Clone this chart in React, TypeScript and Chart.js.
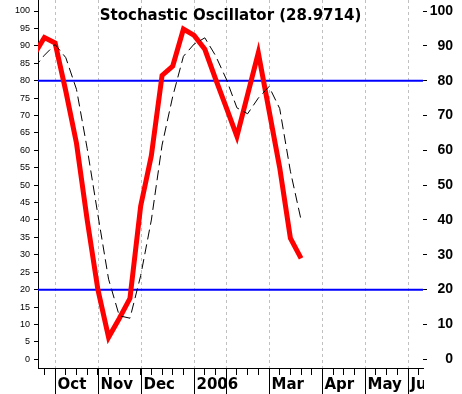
import React, { useEffect, useRef } from 'react';
import { Chart, registerables } from 'chart.js';

Chart.register(...registerables);

const TITLE = 'Stochastic Oscillator (28.9714)';

// weekly sample index (0 = first week tick on the axis)
const weekIndex = [-1, 0, 1, 2, 3, 4, 5, 6, 7, 8, 9, 10, 11, 12, 13, 14, 15, 16, 17, 18, 19, 20, 21, 22, 23, 24];
const percentK = [87.3, 92.4, 90.8, 77, 62, 40, 20, 6.3, 11.7, 17.5, 44, 58.5, 81.5, 84.2, 94.8, 93, 89, 80.5, 72.3, 64, 76, 88, 71.5, 55, 34.8, 28.97];
const percentD = [83.5, 87.3, 90.4, 86.6, 77.5, 60.5, 41.5, 23, 12.5, 11.8, 24, 40, 61.5, 75.5, 87, 90.5, 92.3, 87.2, 80.5, 72.2, 70.5, 75, 78.3, 72, 54, 40];

const levels = [80, 20];

const weekTicks = [0, 1, 2, 3, 4, 5, 6, 7, 8, 9, 10, 11, 12, 13, 14, 15, 16, 17, 18, 19, 20, 21, 22, 23, 24, 25, 26, 27, 28, 29, 30, 31, 32, 33, 34, 35];
const monthStartWeek = [1, 5, 9, 14, 17, 21, 26, 30, 34];
const monthLabels = ['Oct', 'Nov', 'Dec', '2006', '', 'Mar', 'Apr', 'May', 'Jun'];

const leftTickValues = [0, 5, 10, 15, 20, 25, 30, 35, 40, 45, 50, 55, 60, 65, 70, 75, 80, 85, 90, 95, 100];
const rightTickValues = [0, 5, 10, 15, 20, 25, 30, 35, 40, 45, 50, 55, 60, 65, 70, 75, 80, 85, 90, 95, 100];
const rightLabelValues = [0, 10, 20, 30, 40, 50, 60, 70, 80, 90, 100];

const X_MIN = -0.6;
const X_MAX = 35.4;
const Y_MIN = -2.5;
const Y_MAX = 103.16;

const decorPlugin = {
  id: 'decor',
  beforeDatasetsDraw(chart: any) {
    const { ctx, chartArea, scales } = chart;
    ctx.save();
    ctx.strokeStyle = '#c0c0c0';
    ctx.lineWidth = 1;
    ctx.setLineDash([3, 3]);
    monthStartWeek.forEach((w) => {
      const x = Math.round(scales.x.getPixelForValue(w)) + 0.5;
      ctx.beginPath();
      ctx.moveTo(x, chartArea.top);
      ctx.lineTo(x, chartArea.bottom);
      ctx.stroke();
    });
    ctx.restore();
  },
  afterDraw(chart: any) {
    const { ctx, chartArea, scales } = chart;
    ctx.save();
    ctx.strokeStyle = '#000';
    ctx.lineWidth = 1;
    ctx.setLineDash([]);
    monthStartWeek.forEach((w) => {
      const x = Math.round(scales.x.getPixelForValue(w)) + 0.5;
      ctx.beginPath();
      ctx.moveTo(x, chartArea.bottom);
      ctx.lineTo(x, chart.height);
      ctx.stroke();
    });
    ctx.beginPath();
    ctx.rect(chartArea.left, chartArea.bottom, chartArea.right + 1 - chartArea.left, chart.height - chartArea.bottom);
    ctx.clip();
    ctx.fillStyle = '#000';
    ctx.font = 'bold 15px "DejaVu Sans"';
    ctx.textAlign = 'left';
    ctx.textBaseline = 'alphabetic';
    monthStartWeek.forEach((w, i) => {
      const label = monthLabels[i];
      if (!label) return;
      const x = Math.round(scales.x.getPixelForValue(w)) + 2.5;
      ctx.fillText(label, x, chartArea.bottom + 21);
    });
    ctx.restore();

    ctx.save();
    ctx.fillStyle = '#000';
    ctx.font = 'bold 15px "DejaVu Sans"';
    ctx.textAlign = 'center';
    ctx.textBaseline = 'alphabetic';
    ctx.fillText(TITLE, (chartArea.left + chartArea.right) / 2, chartArea.top + 20);
    ctx.restore();
  },
};

export default function App() {
  const ref = useRef<HTMLCanvasElement | null>(null);

  useEffect(() => {
    if (!ref.current) return;
    const kData = weekIndex.map((w, i) => ({ x: w, y: percentK[i] }));
    const dData = weekIndex.map((w, i) => ({ x: w, y: percentD[i] }));
    const levelSets = levels.map((lv) => ({
      label: 'level ' + lv,
      data: [
        { x: X_MIN, y: lv },
        { x: X_MAX, y: lv },
      ],
      borderColor: '#0000ff',
      borderWidth: 2,
      pointRadius: 0,
      order: 3,
    }));

    const chart = new Chart(ref.current, {
      type: 'line',
      data: {
        datasets: [
          ...levelSets,
          {
            label: '%K',
            data: kData,
            borderColor: '#ff0000',
            borderWidth: 5,
            pointRadius: 0,
            borderJoinStyle: 'miter',
            order: 2,
          },
          {
            label: '%D',
            data: dData,
            borderColor: '#000000',
            borderWidth: 1,
            borderDash: [10, 5],
            pointRadius: 0,
            order: 1,
          },
        ] as any,
      },
      options: {
        responsive: false,
        animation: false,
        events: [],
        layout: { autoPadding: false, padding: { left: 0, top: 0, right: 9, bottom: 0 } },
        plugins: {
          legend: { display: false },
          title: { display: false },
          tooltip: { enabled: false },
        },
        scales: {
          x: {
            type: 'linear',
            position: 'bottom',
            min: X_MIN,
            max: X_MAX,
            afterBuildTicks: (s: any) => {
              s.ticks = weekTicks.map((v) => ({ value: v }));
            },
            afterFit: (s: any) => {
              s.height = 26;
              s.paddingLeft = 0;
              s.paddingRight = 0;
            },
            ticks: { display: false, autoSkip: false },
            grid: {
              drawOnChartArea: false,
              drawTicks: true,
              tickLength: 7,
              tickColor: '#000',
            },
            border: { display: true, color: '#000', width: 1 },
          },
          y: {
            type: 'linear',
            position: 'left',
            min: Y_MIN,
            max: Y_MAX,
            afterBuildTicks: (s: any) => {
              s.ticks = leftTickValues.map((v) => ({ value: v }));
            },
            afterFit: (s: any) => {
              s.width = 38;
              s.paddingTop = 0;
              s.paddingBottom = 0;
            },
            ticks: {
              color: '#000',
              padding: 4,
              font: { family: '"Liberation Sans", Arial', size: 9 },
              callback: (v: any) => String(v),
            },
            grid: {
              drawOnChartArea: false,
              drawTicks: true,
              tickLength: 4,
              tickColor: '#000',
            },
            border: { display: true, color: '#000', width: 1 },
          },
          y2: {
            type: 'linear',
            position: 'right',
            min: Y_MIN,
            max: Y_MAX,
            afterBuildTicks: (s: any) => {
              s.ticks = rightTickValues.map((v) => ({ value: v }));
            },
            afterFit: (s: any) => {
              s.width = 30;
              s.paddingTop = 0;
              s.paddingBottom = 0;
            },
            ticks: {
              color: '#000',
              padding: 2,
              crossAlign: 'far',
              font: { family: '"Liberation Sans", Arial', size: 14, weight: 'bold' },
              callback: (v: any) => (rightLabelValues.includes(v) ? String(v) : ''),
            },
            grid: {
              drawOnChartArea: false,
              drawTicks: true,
              tickLength: 4,
              tickColor: '#000',
            },
            border: { display: false },
          },
        },
      } as any,
      plugins: [decorPlugin],
    });
    return () => chart.destroy();
  }, []);

  return (
    <div style={{ position: 'fixed', left: 0, top: 0, width: 462, height: 394, background: '#fff' }}>
      <canvas ref={ref} width={462} height={394} style={{ display: 'block', width: 462, height: 394 }} />
    </div>
  );
}
